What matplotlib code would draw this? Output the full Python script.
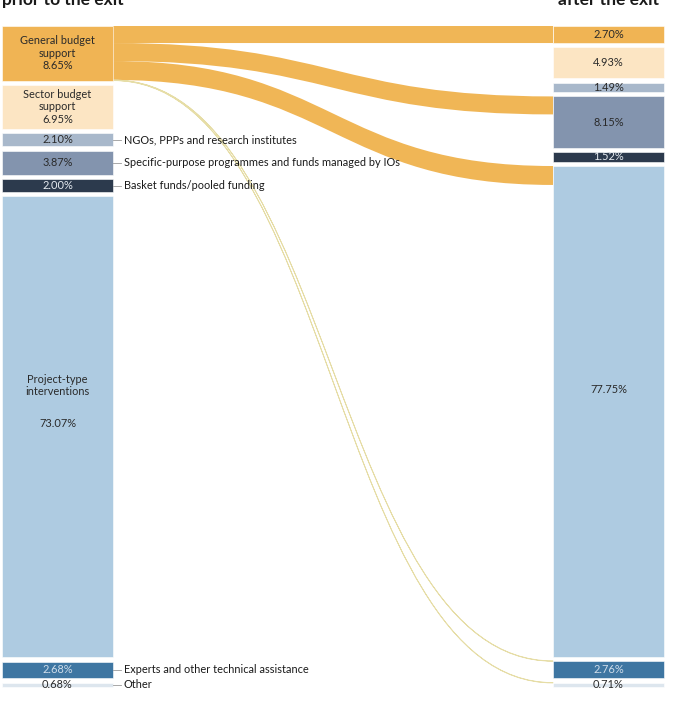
import numpy as np
import matplotlib.pyplot as plt
from matplotlib.path import Path
from matplotlib.patches import PathPatch, Rectangle

plt.rcParams['font.family'] = ['Lato', 'DejaVu Sans']

# Share of funding by instrument, before and after the exit (%)
categories = [
    "General budget support",
    "Sector budget support",
    "NGOs, PPPs and research institutes",
    "Specific-purpose programmes and funds managed by IOs",
    "Basket funds/pooled funding",
    "Project-type interventions",
    "Experts and other technical assistance",
    "Other",
]
before = [8.65, 6.95, 2.10, 3.87, 2.00, 73.07, 2.68, 0.68]
after = [2.70, 4.93, 1.49, 8.15, 1.52, 77.75, 2.76, 0.71]

gbs_target = [0, 3, 5, 6, 7]
gbs_share = [2.70, 2.85, 3.00, 0.05, 0.05]

colors = ['#F0B454', '#FCE5C3', '#A8B8CB', '#8394AE', '#2C3A4D',
          '#AECBE1', '#3E76A2', '#DDE6EE']
text_colors = ['#2a2a2a', '#2a2a2a', '#2a2a2a', '#2a2a2a', '#E6EBF0',
               '#2a2a2a', '#CFDDEA', '#2a2a2a']
flow_color = '#F0B656'
thin_color = '#E6DDA6'

GAP = 0.68          # vertical gap between boxes, in % units
PX = 6.31           # pixels per % unit
LEFT_X = (2, 113)
RIGHT_X = (553, 664)


def box_tops(values):
    v = np.asarray(values)
    return np.concatenate([[0], np.cumsum(v)[:-1]]) + np.arange(len(v)) * GAP


fig = plt.figure(figsize=(6.79, 7.09), dpi=100)
ax = fig.add_axes([0, 0, 1, 1])
ax.set_xlim(0, 679)
ax.set_ylim((709 - 26) / PX, -26 / PX)
ax.axis('off')

top_l = box_tops(before)
top_r = box_tops(after)

# flows out of general budget support
x0, x1 = LEFT_X[1], RIGHT_X[0]
xm = (x0 + x1) / 2
src = top_l[0]
for tgt, w in zip(gbs_target, gbs_share):
    ya, yb = src, top_r[tgt]
    verts = [(x0, ya), (xm, ya), (xm, yb), (x1, yb),
             (x1, yb + w), (xm, yb + w), (xm, ya + w), (x0, ya + w), (x0, ya)]
    codes = [Path.MOVETO, Path.CURVE4, Path.CURVE4, Path.CURVE4,
             Path.LINETO, Path.CURVE4, Path.CURVE4, Path.CURVE4, Path.CLOSEPOLY]
    thin = w < 0.5
    ax.add_patch(PathPatch(Path(verts, codes),
                           facecolor=thin_color if thin else flow_color,
                           edgecolor=thin_color if thin else 'none',
                           lw=0.6 if thin else 0, zorder=1))
    src += w

# boxes
for i in range(len(categories)):
    for (xa, xb), tops, vals in ((LEFT_X, top_l, before), (RIGHT_X, top_r, after)):
        ax.add_patch(Rectangle((xa, tops[i]), xb - xa, vals[i],
                               facecolor=colors[i], edgecolor='white', lw=0.4, zorder=2))

# labels inside the left boxes
fs = 7.9
for i, v in enumerate(before):
    cx = sum(LEFT_X) / 2
    cy = top_l[i] + v / 2
    if i in (0, 1):
        ax.text(cx, cy, f"{categories[i].replace(' support', '')}\nsupport\n{v:.2f}%",
                ha='center', va='center', fontsize=fs, color=text_colors[i],
                linespacing=1.15, zorder=3)
    elif i == 5:
        ax.text(cx, cy - 6.6, "Project-type\ninterventions", ha='center', va='center',
                fontsize=fs, color=text_colors[i], linespacing=1.1, zorder=3)
        ax.text(cx, cy - 0.5, f"{v:.2f}%", ha='center', va='center',
                fontsize=fs, color=text_colors[i], zorder=3)
    else:
        ax.text(cx, cy, f"{v:.2f}%", ha='center', va='center',
                fontsize=fs, color=text_colors[i], zorder=3)
        ax.plot([LEFT_X[1], LEFT_X[1] + 8], [cy, cy], color='#9a9a9a', lw=0.6, zorder=3)
        ax.text(LEFT_X[1] + 11, cy, categories[i], ha='left', va='center',
                fontsize=fs, color='#1a1a1a', zorder=3)

# labels inside the right boxes
for i, v in enumerate(after):
    cy = top_r[i] + v / 2 - (3.5 if i == 5 else 0)
    ax.text(sum(RIGHT_X) / 2, cy, f"{v:.2f}%", ha='center', va='center',
            fontsize=fs, color=text_colors[i], zorder=3)

# column headings, cut by the top edge as in the source
ax.text(2, -21 / PX, "prior to the exit", ha='left', va='baseline',
        fontsize=12.5, fontweight='bold', color='#1a1a1a')
ax.text(659, -21 / PX, "after the exit", ha='right', va='baseline',
        fontsize=12.5, fontweight='bold', color='#1a1a1a')

fig.savefig('out.png', dpi=100, facecolor='white')
